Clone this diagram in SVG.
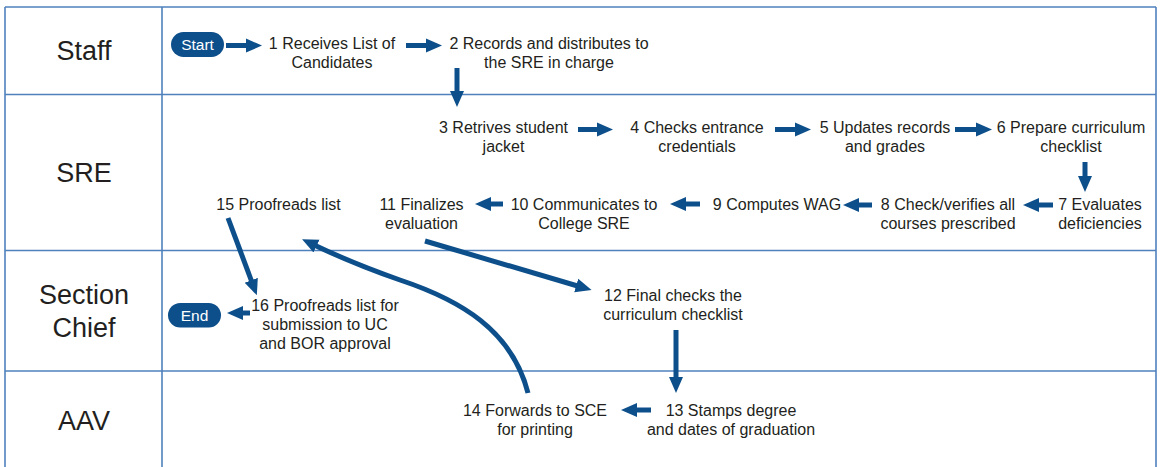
<svg xmlns="http://www.w3.org/2000/svg" width="1160" height="467" viewBox="0 0 1160 467">
<defs>
<style>
.grid{stroke:#4f81bd;stroke-width:1.6;fill:none}
.lane{font-family:"Liberation Sans",Arial,sans-serif;font-size:27px;fill:#231f20;text-anchor:middle}
.t{font-family:"Liberation Sans",Arial,sans-serif;font-size:16px;fill:#231f20;text-anchor:middle}
.pill{fill:#0d4f8b}
.pt{font-family:"Liberation Sans",Arial,sans-serif;font-size:15.5px;fill:#ffffff;text-anchor:middle}
.c{stroke:#0d4f8b;stroke-width:5;fill:none;marker-end:url(#ah)}
</style>
<marker id="ah" markerUnits="userSpaceOnUse" markerWidth="16" markerHeight="16" viewBox="0 0 16 14" refX="5" refY="7" orient="auto">
<path d="M0,0 L16,7 L0,14 z" fill="#0d4f8b"/>
</marker>
</defs>
<rect width="1160" height="467" fill="#ffffff"/>
<g id="grid">
<path class="grid" d="M5,7 H1156 M5,7 V467 M1156,7 V467 M162,7 V467 M5,94.5 H1156 M5,250.5 H1156 M5,371 H1156"/>
</g>
<g id="lanes">
<text class="lane" x="84" y="60">Staff</text>
<text class="lane" x="84" y="182">SRE</text>
<text class="lane" x="84" y="304">Section</text>
<text class="lane" x="84" y="337">Chief</text>
<text class="lane" x="84" y="430">AAV</text>
</g>
<g id="connectors">
<path class="c" d="M226,45.5 H251"/>
<path class="c" d="M406,45.5 H431"/>
<path class="c" d="M457,68 V96"/>
<path class="c" d="M578,129.5 H602"/>
<path class="c" d="M775,129.5 H800"/>
<path class="c" d="M955,129.5 H981"/>
<path class="c" d="M1085,162 V181"/>
<path class="c" d="M1053,205 H1034"/>
<path class="c" d="M872,205 H854"/>
<path class="c" d="M700,204 H681"/>
<path class="c" d="M503,204 H486"/>
<path class="c" d="M425,241 L581,287"/>
<path class="c" d="M676,330 V382"/>
<path class="c" d="M651,410 H632"/>
<path class="c" d="M250,313 H238"/>
<path class="c" d="M228,218 L253,285"/>
<path class="c" d="M528,393 C512,330 460,300 400,280 C360,266 335,255 312,244"/>
</g>
<g id="start">
<rect class="pill" x="171" y="32" width="53" height="25" rx="12.5"/>
<text class="pt" x="197.5" y="50">Start</text>
</g>
<g id="n1"><text class="t" x="332" y="49">1 Receives List of</text><text class="t" x="332" y="68">Candidates</text></g>
<g id="n2"><text class="t" x="549" y="49">2 Records and distributes to</text><text class="t" x="549" y="68">the SRE in charge</text></g>
<g id="n3"><text class="t" x="503.5" y="133">3 Retrives student</text><text class="t" x="503.5" y="152">jacket</text></g>
<g id="n4"><text class="t" x="697" y="133">4 Checks entrance</text><text class="t" x="697" y="152">credentials</text></g>
<g id="n5"><text class="t" x="885" y="133">5 Updates records</text><text class="t" x="885" y="152">and grades</text></g>
<g id="n6"><text class="t" x="1071" y="133">6 Prepare curriculum</text><text class="t" x="1071" y="152">checklist</text></g>
<g id="n7"><text class="t" x="1100" y="210">7 Evaluates</text><text class="t" x="1100" y="229">deficiencies</text></g>
<g id="n8"><text class="t" x="948" y="210">8 Check/verifies all</text><text class="t" x="948" y="229">courses prescribed</text></g>
<g id="n9"><text class="t" x="777" y="210">9 Computes WAG</text></g>
<g id="n10"><text class="t" x="584" y="210">10 Communicates to</text><text class="t" x="584" y="229">College SRE</text></g>
<g id="n11"><text class="t" x="421.5" y="210">11 Finalizes</text><text class="t" x="421.5" y="229">evaluation</text></g>
<g id="n15"><text class="t" x="278.5" y="210">15 Proofreads list</text></g>
<g id="n12"><text class="t" x="673" y="301">12 Final checks the</text><text class="t" x="673" y="320">curriculum checklist</text></g>
<g id="n16"><text class="t" x="325" y="311">16 Proofreads list for</text><text class="t" x="325" y="330">submission to UC</text><text class="t" x="325" y="349">and BOR approval</text></g>
<g id="end">
<rect class="pill" x="168" y="303" width="53" height="24.5" rx="12.25"/>
<text class="pt" x="194.5" y="320.5">End</text>
</g>
<g id="n13"><text class="t" x="731" y="416">13 Stamps degree</text><text class="t" x="731" y="435">and dates of graduation</text></g>
<g id="n14"><text class="t" x="535" y="416">14 Forwards to SCE</text><text class="t" x="535" y="435">for printing</text></g>
</svg>
